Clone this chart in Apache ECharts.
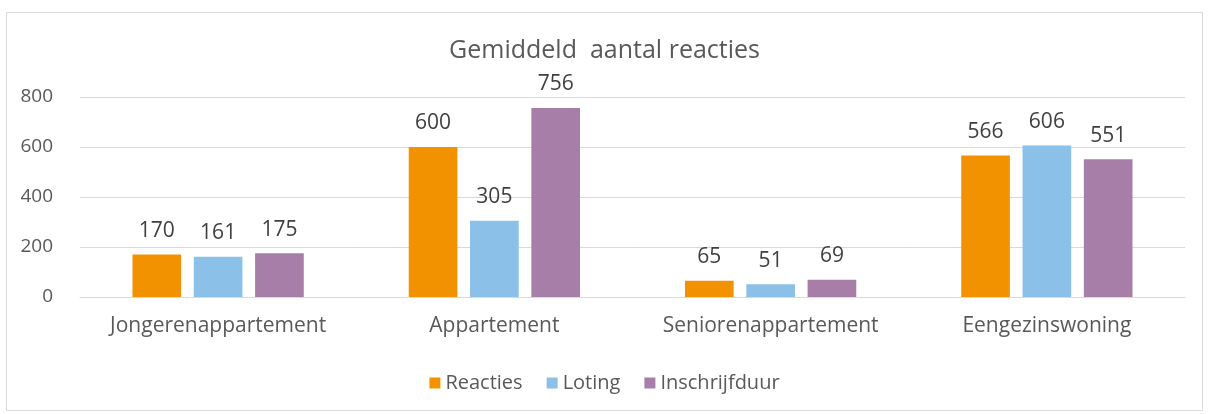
<!DOCTYPE html>
<html><head><meta charset="utf-8">
<script src="https://cdn.jsdelivr.net/npm/echarts@6/dist/echarts.min.js"></script>
<style>html,body{margin:0;padding:0;background:#fff}#c{width:1209px;height:414px}</style>
</head><body><div id="c"></div>
<script>
const categories = ['Jongerenappartement', 'Appartement', 'Seniorenappartement', 'Eengezinswoning'];
const reacties = [170, 600, 65, 566];
const loting = [161, 305, 51, 606];
const inschrijfduur = [175, 756, 69, 551];
const yTicks = [0, 200, 400, 600, 800];

const FONT = '"Open Sans", sans-serif';
const chart = echarts.init(document.getElementById('c'), null, {renderer: 'canvas'});
const lbl = {show: true, position: 'top', distance: 13, color: '#404040', fontSize: 21, fontFamily: FONT};
chart.setOption({
  animation: false,
  textStyle: {fontFamily: FONT},
  graphic: [{type: 'rect', shape: {x: 6.5, y: 12.5, width: 1196, height: 398}, style: {fill: 'none', stroke: '#d9d9d9', lineWidth: 1}, silent: true}],
  title: {text: 'Gemiddeld  aantal reacties', left: 'center', top: 33, textStyle: {fontFamily: FONT, fontSize: 25, fontWeight: 'normal', color: '#595959'}},
  legend: {bottom: 16, left: 'center', itemWidth: 11, itemHeight: 11, itemGap: 24, icon: 'rect',
    textStyle: {fontFamily: FONT, fontSize: 20, color: '#595959'},
    data: ['Reacties', 'Loting', 'Inschrijfduur']},
  grid: {left: 80, right: 24, top: 97, bottom: 117, containLabel: false},
  xAxis: {type: 'category', data: categories,
    axisLine: {lineStyle: {color: '#d9d9d9'}}, axisTick: {show: false},
    axisLabel: {interval: 0, fontFamily: FONT, fontSize: 21, color: '#595959', margin: 19}},
  yAxis: {type: 'value', min: yTicks[0], max: yTicks[yTicks.length - 1], interval: 200,
    axisLine: {show: false}, axisTick: {show: false},
    splitLine: {lineStyle: {color: '#d9d9d9'}},
    axisLabel: {fontFamily: FONT, fontSize: 19, color: '#595959', margin: 27}},
  series: [
    {name: 'Reacties', type: 'bar', data: reacties, itemStyle: {color: '#F39200'}, label: lbl, barGap: '26%', barCategoryGap: '38%'},
    {name: 'Loting', type: 'bar', data: loting, itemStyle: {color: '#8BC1E9'}, label: lbl},
    {name: 'Inschrijfduur', type: 'bar', data: inschrijfduur, itemStyle: {color: '#A77EA7'}, label: lbl}
  ]
});
</script></body></html>
